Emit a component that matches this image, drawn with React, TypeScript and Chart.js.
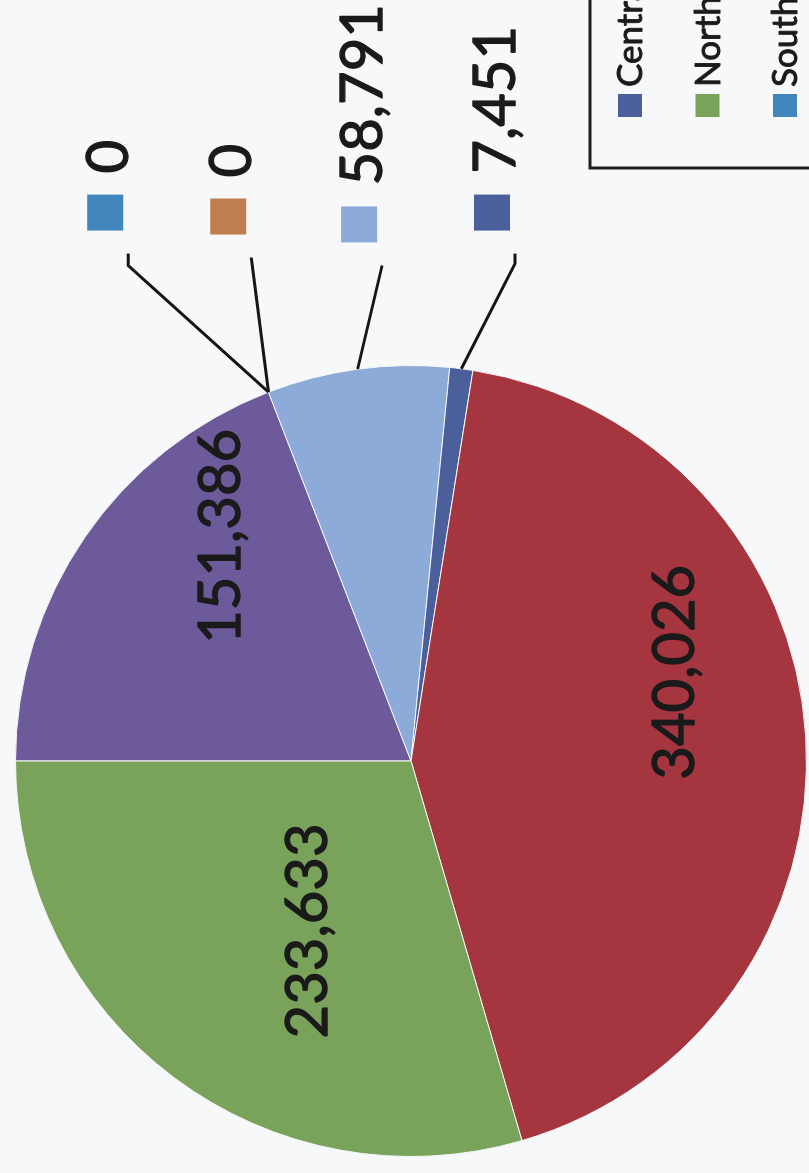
import React, { useEffect, useRef } from "react";
import { Chart, registerables } from "chart.js";

Chart.register(...registerables);

// Slices in drawing order (clockwise from the top of the unrotated chart)
const categories = ["West", "South", "Other", "Metro", "Central", "East", "North"];
const values = [151386, 0, 0, 58791, 7451, 340026, 233633];
const sliceColors = ["#6C5A9B", "#4187BE", "#C07D50", "#8DABD8", "#4B5F9B", "#A5363F", "#79A35B"];
// Legend order (only the first three are visible, the rest are cropped)
const legendOrder = ["Central", "North", "South", "East", "West", "Metro", "Other"];

// Label placement (layout only)
const insideLabels: Record<string, [number, number]> = {
  West: [49.5, 0.747],
  East: [161.3, 0.7],
  North: [301.7, 0.505],
};
const outsideLabels: Record<string, [number, number, number]> = {
  South: [1.283, -0.715, 12],
  Other: [1.273, -0.404, 0],
  Metro: [1.253, -0.073, 0],
  Central: [1.283, 0.263, 10],
};

const W = 1173;
const H = 809;
const FONT = "Lato, 'Open Sans', sans-serif";
const TEXT = "#1a1a1a";
const fmt = (v: number) => v.toLocaleString("en-US");

function boldText(ctx: any, text: string, x: number, y: number, w: number) {
  ctx.fillStyle = TEXT;
  ctx.strokeStyle = TEXT;
  ctx.lineWidth = w;
  ctx.lineJoin = "round";
  ctx.strokeText(text, x, y);
  ctx.fillText(text, x, y);
}

const labelPlugin = {
  id: "pieLabels",
  afterDatasetsDraw(chart: any) {
    const ctx = chart.ctx;
    const meta = chart.getDatasetMeta(0);
    const labels: string[] = chart.data.labels;
    const data: number[] = chart.data.datasets[0].data;
    const colors: string[] = chart.data.datasets[0].backgroundColor;
    ctx.save();
    ctx.font = `58px ${FONT}`;
    meta.data.forEach((arc: any, i: number) => {
      const { x, y, startAngle, endAngle, outerRadius } = arc.getProps(
        ["x", "y", "startAngle", "endAngle", "outerRadius"],
        true
      );
      const name = labels[i];
      const text = fmt(data[i]);
      if (insideLabels[name]) {
        const [deg, frac] = insideLabels[name];
        const t = (deg * Math.PI) / 180;
        const px = x + frac * outerRadius * Math.sin(t);
        const py = y - frac * outerRadius * Math.cos(t);
        ctx.textAlign = "center";
        ctx.textBaseline = "alphabetic";
        boldText(ctx, text, px, py + 21, 1.3);
      } else if (outsideLabels[name]) {
        const [fx, fy, knee] = outsideLabels[name];
        const ax = x + fx * outerRadius;
        const ay = y + fy * outerRadius;
        const mid = (startAngle + endAngle) / 2;
        const sx = x + outerRadius * Math.cos(mid);
        const sy = y + outerRadius * Math.sin(mid);
        ctx.strokeStyle = "#161616";
        ctx.lineWidth = 3;
        ctx.lineJoin = "miter";
        ctx.beginPath();
        ctx.moveTo(sx, sy);
        ctx.lineTo(ax - knee, ay);
        ctx.lineTo(ax, ay);
        ctx.stroke();
        ctx.fillStyle = colors[i];
        ctx.fillRect(ax + 23, ay - 41, 36, 36);
        ctx.textAlign = "left";
        ctx.textBaseline = "alphabetic";
        boldText(ctx, text, ax + 80, ay, 1.3);
      }
    });
    ctx.restore();
  },
};

const legendPlugin = {
  id: "boxLegend",
  afterDraw(chart: any) {
    const ctx = chart.ctx;
    const labels: string[] = chart.data.labels;
    const colors: string[] = chart.data.datasets[0].backgroundColor;
    const bx = 1005;
    const by = 590;
    ctx.save();
    ctx.strokeStyle = "#1e1e1e";
    ctx.lineWidth = 3;
    ctx.beginPath();
    ctx.moveTo(chart.width + 10, by);
    ctx.lineTo(bx, by);
    ctx.lineTo(bx, chart.height + 10);
    ctx.stroke();
    ctx.font = `35px ${FONT}`;
    ctx.textAlign = "left";
    ctx.textBaseline = "alphabetic";
    legendOrder.forEach((name, k) => {
      const idx = labels.indexOf(name);
      const base = 642 + k * 77.5;
      ctx.fillStyle = colors[idx];
      ctx.fillRect(1056, base - 24, 23, 24);
      boldText(ctx, name, 1086, base, 0.9);
    });
    ctx.restore();
  },
};

export default function App() {
  const ref = useRef<HTMLCanvasElement>(null);
  useEffect(() => {
    if (!ref.current) return;
    const chart = new Chart(ref.current, {
      type: "pie",
      data: {
        labels: categories,
        datasets: [
          {
            data: values,
            backgroundColor: sliceColors,
            borderColor: "#f4f6f7",
            borderWidth: 1,
          },
        ],
      },
      options: {
        responsive: false,
        animation: false,
        devicePixelRatio: 1,
        events: [],
        rotation: 0,
        layout: { padding: { left: 0, right: 349, top: 15, bottom: 2 } },
        plugins: {
          legend: { display: false },
          tooltip: { enabled: false },
        },
      },
      plugins: [labelPlugin, legendPlugin],
    });
    const fonts: any = (document as any).fonts;
    if (fonts && fonts.load) {
      Promise.all([fonts.load(`58px Lato`), fonts.load(`35px Lato`)])
        .then(() => chart.draw())
        .catch(() => {});
    }
    return () => chart.destroy();
  }, []);

  return (
    <div
      style={{
        position: "fixed",
        left: 0,
        top: 0,
        width: 809,
        height: 1173,
        overflow: "hidden",
        background: "#F6F8F9",
      }}
    >
      <div
        style={{
          position: "absolute",
          left: 0,
          top: 0,
          width: W,
          height: H,
          transformOrigin: "0 0",
          transform: `translateY(${W}px) rotate(-90deg)`,
        }}
      >
        <canvas ref={ref} width={W} height={H} style={{ width: W, height: H, display: "block" }} />
      </div>
    </div>
  );
}
